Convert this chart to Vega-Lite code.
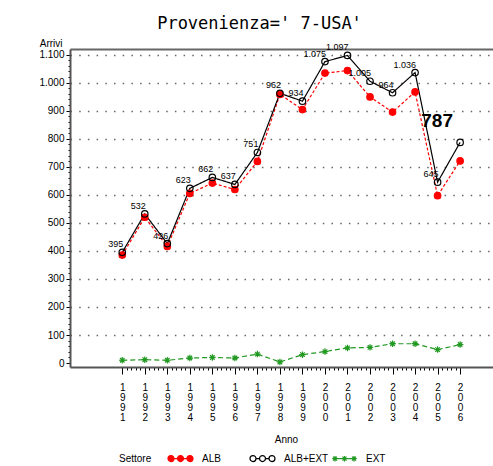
{
  "$schema": "https://vega.github.io/schema/vega-lite/v6.json",
  "autosize": {"type": "none"},
  "width": 423,
  "height": 318,
  "padding": {"left": 70, "top": 49, "right": 0, "bottom": 99},
  "background": "white",
  "config": {
    "locale": {"number": {"decimal": ",", "thousands": ".", "grouping": [3], "currency": ["", " €"]}},
    "view": {"stroke": null},
    "font": "Liberation Sans"
  },
  "title": {
    "text": "Provenienza=' 7-USA'",
    "font": "DejaVu Sans Mono",
    "fontSize": 17,
    "fontWeight": "normal",
    "color": "black",
    "anchor": "middle",
    "frame": "group",
    "baseline": "bottom",
    "offset": -12,
    "dx": -22
  },
  "data": {
    "values": [
      {"Anno": 1991, "Settore": "ALB", "Arrivi": 385},
      {"Anno": 1992, "Settore": "ALB", "Arrivi": 520},
      {"Anno": 1993, "Settore": "ALB", "Arrivi": 416},
      {"Anno": 1994, "Settore": "ALB", "Arrivi": 605},
      {"Anno": 1995, "Settore": "ALB", "Arrivi": 642},
      {"Anno": 1996, "Settore": "ALB", "Arrivi": 619},
      {"Anno": 1997, "Settore": "ALB", "Arrivi": 719},
      {"Anno": 1998, "Settore": "ALB", "Arrivi": 958},
      {"Anno": 1999, "Settore": "ALB", "Arrivi": 904},
      {"Anno": 2000, "Settore": "ALB", "Arrivi": 1034},
      {"Anno": 2001, "Settore": "ALB", "Arrivi": 1043},
      {"Anno": 2002, "Settore": "ALB", "Arrivi": 949},
      {"Anno": 2003, "Settore": "ALB", "Arrivi": 895},
      {"Anno": 2004, "Settore": "ALB", "Arrivi": 967},
      {"Anno": 2005, "Settore": "ALB", "Arrivi": 597},
      {"Anno": 2006, "Settore": "ALB", "Arrivi": 721},
      {"Anno": 1991, "Settore": "ALB+EXT", "Arrivi": 395},
      {"Anno": 1992, "Settore": "ALB+EXT", "Arrivi": 532},
      {"Anno": 1993, "Settore": "ALB+EXT", "Arrivi": 426},
      {"Anno": 1994, "Settore": "ALB+EXT", "Arrivi": 623},
      {"Anno": 1995, "Settore": "ALB+EXT", "Arrivi": 662},
      {"Anno": 1996, "Settore": "ALB+EXT", "Arrivi": 637},
      {"Anno": 1997, "Settore": "ALB+EXT", "Arrivi": 751},
      {"Anno": 1998, "Settore": "ALB+EXT", "Arrivi": 962},
      {"Anno": 1999, "Settore": "ALB+EXT", "Arrivi": 934},
      {"Anno": 2000, "Settore": "ALB+EXT", "Arrivi": 1075},
      {"Anno": 2001, "Settore": "ALB+EXT", "Arrivi": 1097},
      {"Anno": 2002, "Settore": "ALB+EXT", "Arrivi": 1005},
      {"Anno": 2003, "Settore": "ALB+EXT", "Arrivi": 964},
      {"Anno": 2004, "Settore": "ALB+EXT", "Arrivi": 1036},
      {"Anno": 2005, "Settore": "ALB+EXT", "Arrivi": 645},
      {"Anno": 2006, "Settore": "ALB+EXT", "Arrivi": 787},
      {"Anno": 1991, "Settore": "EXT", "Arrivi": 10},
      {"Anno": 1992, "Settore": "EXT", "Arrivi": 12},
      {"Anno": 1993, "Settore": "EXT", "Arrivi": 10},
      {"Anno": 1994, "Settore": "EXT", "Arrivi": 18},
      {"Anno": 1995, "Settore": "EXT", "Arrivi": 20},
      {"Anno": 1996, "Settore": "EXT", "Arrivi": 18},
      {"Anno": 1997, "Settore": "EXT", "Arrivi": 32},
      {"Anno": 1998, "Settore": "EXT", "Arrivi": 4},
      {"Anno": 1999, "Settore": "EXT", "Arrivi": 30},
      {"Anno": 2000, "Settore": "EXT", "Arrivi": 41},
      {"Anno": 2001, "Settore": "EXT", "Arrivi": 54},
      {"Anno": 2002, "Settore": "EXT", "Arrivi": 56},
      {"Anno": 2003, "Settore": "EXT", "Arrivi": 69},
      {"Anno": 2004, "Settore": "EXT", "Arrivi": 69},
      {"Anno": 2005, "Settore": "EXT", "Arrivi": 48},
      {"Anno": 2006, "Settore": "EXT", "Arrivi": 66}
    ]
  },
  "encoding": {
    "x": {
      "field": "Anno", "type": "quantitative",
      "scale": {"domain": [1988.68, 2007.46], "nice": false, "zero": false},
      "axis": null
    },
    "y": {
      "field": "Arrivi", "type": "quantitative",
      "scale": {"domain": [-14, 1120], "nice": false, "zero": false},
      "axis": {
        "title": "Arrivi",
        "titleFont": "Liberation Sans",
        "titleFontSize": 10,
        "titleFontWeight": "normal",
        "titleAngle": 0,
        "titleAlign": "right",
        "titleBaseline": "bottom",
        "titleX": -8,
        "titleY": -1,
        "values": [0,20,40,60,80,100,120,140,160,180,200,220,240,260,280,300,320,340,360,380,400,420,440,460,480,500,520,540,560,580,600,620,640,660,680,700,720,740,760,780,800,820,840,860,880,900,920,940,960,980,1000,1020,1040,1060,1080,1100],
        "labelExpr": "datum.value % 100 === 0 ? format(datum.value, ',') : ''",
        "labelFontSize": 10,
        "labelColor": "black",
        "labelPadding": 2,
        "tickSize": {"condition": {"test": "datum.value % 100 === 0", "value": 4}, "value": 2},
        "tickColor": "black",
        "domainColor": "#555555",
        "domainWidth": 2,
        "grid": true,
        "gridDash": [1.5, 7.2],
        "gridColor": "#666666",
        "gridWidth": 1.5,
        "gridOpacity": {"condition": {"test": "datum.value % 100 === 0 && datum.value > 0", "value": 1}, "value": 0}
      }
    }
  },
  "layer": [
    {
      "mark": {"type": "line", "strokeWidth": 1.2},
      "encoding": {
        "x": {
          "field": "Anno", "type": "quantitative",
          "scale": {"domain": [1988.68, 2007.46], "nice": false, "zero": false},
          "axis": {
            "title": "Anno",
            "titleFont": "Liberation Sans",
            "titleFontSize": 10,
            "titleFontWeight": "normal",
            "titleX": 216,
            "titleY": 72,
            "titleBaseline": "middle",
            "values": [1991,1991.2,1991.4,1991.6,1991.8,1992,1992.2,1992.4,1992.6,1992.8,1993,1993.2,1993.4,1993.6,1993.8,1994,1994.2,1994.4,1994.6,1994.8,1995,1995.2,1995.4,1995.6,1995.8,1996,1996.2,1996.4,1996.6,1996.8,1997,1997.2,1997.4,1997.6,1997.8,1998,1998.2,1998.4,1998.6,1998.8,1999,1999.2,1999.4,1999.6,1999.8,2000,2000.2,2000.4,2000.6,2000.8,2001,2001.2,2001.4,2001.6,2001.8,2002,2002.2,2002.4,2002.6,2002.8,2003,2003.2,2003.4,2003.6,2003.8,2004,2004.2,2004.4,2004.6,2004.8,2005,2005.2,2005.4,2005.6,2005.8,2006],
            "labelExpr": "abs(datum.value - round(datum.value)) < 0.01 ? split(toString(round(datum.value)), '') : ''",
            "labelOverlap": false,
            "labelBound": false,
            "labelFlush": false,
            "labelAngle": 0,
            "labelAlign": "center",
            "labelBaseline": "top",
            "labelFontSize": 10,
            "labelLineHeight": 10,
            "labelPadding": 8,
            "labelColor": "black",
            "tickSize": {"condition": {"test": "abs(datum.value - round(datum.value)) < 0.01", "value": 7}, "value": 3},
            "tickColor": "black",
            "tickWidth": 1,
            "domainColor": "#555555",
            "domainWidth": 2,
            "grid": false
          }
        },
        "color": {"field": "Settore", "type": "nominal", "scale": {"domain": ["ALB", "ALB+EXT", "EXT"], "range": ["#ff0000", "#000000", "#229922"]}, "legend": null},
        "strokeDash": {"field": "Settore", "type": "nominal", "scale": {"domain": ["ALB", "ALB+EXT", "EXT"], "range": [[3, 2], [1, 0], [5, 3]]}, "legend": null}
      }
    },
    {
      "mark": {"type": "point", "strokeWidth": 1.2, "opacity": 1},
      "encoding": {
        "shape": {"field": "Settore", "type": "nominal", "scale": {"domain": ["ALB", "ALB+EXT", "EXT"], "range": ["circle", "circle", "M-1,0L1,0M0,-1L0,1M-0.7,-0.7L0.7,0.7M-0.7,0.7L0.7,-0.7"]}, "legend": null},
        "fill": {"field": "Settore", "type": "nominal", "scale": {"domain": ["ALB", "ALB+EXT", "EXT"], "range": ["#ff0000", "rgba(255,255,255,0)", "rgba(255,255,255,0)"]}, "legend": null},
        "stroke": {"field": "Settore", "type": "nominal", "scale": {"domain": ["ALB", "ALB+EXT", "EXT"], "range": ["#ff0000", "#000000", "#229922"]}, "legend": null},
        "size": {"value": 42}
      }
    },
    {
      "transform": [{"filter": "datum.Anno < 0"}],
      "mark": {"type": "point", "strokeWidth": 1.2, "opacity": 1},
      "encoding": {
        "x": {
          "field": "Anno", "type": "quantitative",
          "scale": {"domain": [1988.68, 2007.46], "nice": false, "zero": false},
          "axis": {"orient": "top", "labels": false, "ticks": false, "title": null, "grid": false, "domain": true, "domainColor": "#666666", "domainWidth": 2}
        },
        "shape": {"field": "Settore", "type": "nominal", "scale": {"domain": ["ALB", "ALB+EXT", "EXT"], "range": [
          "M-1,0A0.24,0.24 0 1,0 -0.52,0A0.24,0.24 0 1,0 -1,0ZM-0.24,0A0.24,0.24 0 1,0 0.24,0A0.24,0.24 0 1,0 -0.24,0ZM0.52,0A0.24,0.24 0 1,0 1,0A0.24,0.24 0 1,0 0.52,0ZM-0.52,0L-0.24,0M0.24,0L0.52,0",
          "M-1,0A0.24,0.24 0 1,0 -0.52,0A0.24,0.24 0 1,0 -1,0ZM-0.24,0A0.24,0.24 0 1,0 0.24,0A0.24,0.24 0 1,0 -0.24,0ZM0.52,0A0.24,0.24 0 1,0 1,0A0.24,0.24 0 1,0 0.52,0ZM-0.52,0L-0.24,0M0.24,0L0.52,0",
          "M-0.98,0L0.98,0M-0.76,-0.22L-0.76,0.22M-0.92,-0.16L-0.6,0.16M-0.92,0.16L-0.6,-0.16M0,-0.22L0,0.22M-0.16,-0.16L0.16,0.16M-0.16,0.16L0.16,-0.16M0.76,-0.22L0.76,0.22M0.6,-0.16L0.92,0.16M0.6,0.16L0.92,-0.16"
        ]}, "legend": {
          "title": "Settore",
          "orient": "none",
          "legendX": 49,
          "legendY": 396,
          "direction": "horizontal",
          "columns": 3,
          "gridAlign": "all",
          "columnPadding": 0,
          "titleOrient": "left",
          "titleAnchor": "middle",
          "titleBaseline": "top",
          "titlePadding": 15,
          "titleFont": "Liberation Sans",
          "titleFontSize": 10,
          "titleFontWeight": "normal",
          "titleColor": "black",
          "labelFont": "Liberation Sans",
          "labelFontSize": 10,
          "labelColor": "black",
          "labelOffset": 8,
          "symbolSize": 625,
          "symbolStrokeWidth": 1.2
        }},
        "fill": {"field": "Settore", "type": "nominal", "scale": {"domain": ["ALB", "ALB+EXT", "EXT"], "range": ["#ff0000", "rgba(255,255,255,0)", "rgba(255,255,255,0)"]}},
        "stroke": {"field": "Settore", "type": "nominal", "scale": {"domain": ["ALB", "ALB+EXT", "EXT"], "range": ["#ff0000", "#000000", "#229922"]}}
      }
    },
    {
      "transform": [{"filter": "datum.Settore === 'ALB+EXT' && datum.Anno < 2006"}],
      "mark": {"type": "text", "align": "right", "baseline": "alphabetic", "dx": 1, "dy": -5, "fontSize": 9, "font": "Liberation Sans", "color": "black"},
      "encoding": {
        "text": {"field": "Arrivi", "type": "quantitative", "format": ","}
      }
    },
    {
      "transform": [{"filter": "datum.Settore === 'ALB+EXT' && datum.Anno === 2006"}],
      "mark": {"type": "text", "align": "center", "baseline": "middle", "dx": -23, "dy": -21, "fontSize": 19, "fontWeight": "bold", "font": "Liberation Sans", "color": "black"},
      "encoding": {
        "text": {"field": "Arrivi", "type": "quantitative", "format": ","}
      }
    }
  ],
  "resolve": {"scale": {"shape": "independent", "fill": "independent", "stroke": "independent"}, "axis": {"x": "independent"}}
}
